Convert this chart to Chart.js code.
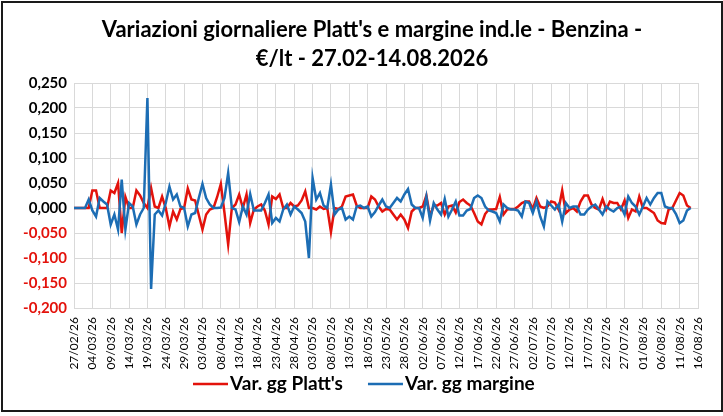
<!DOCTYPE html>
<html>
<head>
<meta charset="utf-8">
<script src="https://cdn.jsdelivr.net/npm/chart.js@4.4.1/dist/chart.umd.min.js"></script>
<style>
  html, body { margin: 0; padding: 0; background: #fff; }
  #wrap { position: relative; width: 723px; height: 416px; }
  #frame { position: absolute; left: 1px; top: 1px; width: 718px; height: 407px; border: 2px solid #1a1a1a; box-sizing: content-box; pointer-events: none; }
  canvas { position: absolute; left: 0; top: 0; }
</style>
</head>
<body>
<div id="wrap">
  <canvas id="c" width="723" height="416"></canvas>
  <div id="frame"></div>
</div>
<script>
// ---- Data (daily, day 0 = 27/02/26) ----
const titleLines = ["Variazioni giornaliere Platt's e margine ind.le - Benzina -", "€/lt - 27.02-14.08.2026"];
const seriesNames = ["Var. gg Platt's", "Var. gg margine"];
const tickLabels = ['27/02/26','04/03/26','09/03/26','14/03/26','19/03/26','24/03/26','29/03/26','03/04/26','08/04/26','13/04/26','18/04/26','23/04/26','28/04/26','03/05/26','08/05/26','13/05/26','18/05/26','23/05/26','28/05/26','02/06/26','07/06/26','12/06/26','17/06/26','22/06/26','27/06/26','02/07/26','07/07/26','12/07/26','17/07/26','22/07/26','27/07/26','01/08/26','06/08/26','11/08/26','16/08/26'];
const platts = [
  0, 0, 0, 0, 0, 0.035, 0.035, 0, 0, 0,
  0.035, 0.03, 0.05, -0.05, 0.022, 0, 0, 0.035, 0.025, 0.01,
  0, 0.04, 0.003, 0, 0.023, 0, -0.037, -0.007, -0.023, -0.002,
  0, 0.039, 0.017, 0.015, -0.014, -0.043, -0.013, -0.003, 0, 0.022,
  0.048, -0.01, -0.073, 0, 0.007, 0.027, 0, 0.027, -0.03, -0.003,
  0.003, 0.007, -0.005, -0.033, 0.023, 0.018, 0.027, 0, 0, 0.01,
  0.003, 0.005, 0.015, 0.033, 0, 0, -0.003, 0.003, -0.002, 0,
  -0.048, 0, -0.002, 0.003, 0.023, 0.025, 0.027, 0.005, 0, 0,
  0, 0.023, 0.017, 0.003, -0.007, -0.002, -0.003, -0.013, -0.023, -0.013,
  -0.023, -0.04, -0.007, 0, 0, 0.003, 0.025, -0.017, 0.005, 0.005,
  0.01, -0.013, 0.003, 0.005, -0.009, 0.012, 0.017, 0.01, 0.005, -0.01,
  -0.027, -0.033, -0.012, -0.003, -0.003, -0.002, 0.022, -0.013, -0.003, -0.002,
  -0.002, 0.003, 0.01, 0.013, 0.013, -0.002, 0.02, 0.003, 0, 0.003,
  0.013, 0.011, -0.003, 0.035, -0.01, -0.003, 0, -0.007, 0.013, 0.025,
  0.025, 0.007, 0, -0.003, 0.018, -0.003, 0.013, 0.01, 0.01, -0.003,
  0.015, -0.02, -0.003, -0.007, 0.023, 0, 0, -0.005, -0.01, -0.025,
  -0.03, -0.031, -0.003, 0, 0.015, 0.03, 0.025, 0.005, 0
];
const margine = [
  0, 0, 0, 0, 0.017, -0.005, -0.017, 0.02, 0.013, 0.007,
  -0.033, -0.013, -0.043, 0.057, -0.043, 0.01, 0.003, -0.033, -0.013, 0,
  0.22, -0.162, -0.013, -0.005, -0.015, 0.01, 0.043, 0.017, 0.027, 0.003,
  0, -0.037, -0.013, -0.01, 0.02, 0.048, 0.02, 0.007, 0, 0,
  0.001, 0.02, 0.07, 0, -0.003, -0.028, 0.003, -0.013, 0.028, -0.005,
  -0.005, -0.005, 0.01, 0.027, -0.03, -0.02, -0.027, -0.003, 0.007, -0.013,
  0.003, -0.003, -0.01, -0.027, -0.1, 0.06, 0.017, 0.03, 0.005, 0,
  0.047, -0.013, -0.003, 0, -0.023, -0.017, -0.023, 0.003, 0.005, 0,
  0.003, -0.017, -0.008, 0.005, 0.017, 0.003, 0, 0.01, 0.02, 0.013,
  0.027, 0.038, 0.007, 0, 0, -0.02, 0.022, -0.025, 0.01, -0.003,
  -0.013, 0.018, -0.017, -0.003, 0.013, -0.015, -0.015, -0.005, -0.002, 0.02,
  0.025, 0.02, 0.003, -0.005, -0.007, -0.01, -0.027, 0.007, 0, -0.003,
  -0.003, -0.005, -0.017, 0.013, 0.01, -0.01, 0.013, -0.017, -0.037, 0.013,
  0.005, -0.003, 0.007, -0.027, 0.01, 0, 0.003, 0.003, -0.013, -0.013,
  -0.003, 0.003, 0.007, -0.003, -0.013, 0.003, -0.003, -0.007, 0, 0.003,
  -0.013, 0.023, 0.01, 0.003, -0.013, 0.003, 0.02, 0.007, 0.02, 0.03,
  0.03, 0.003, 0, 0, -0.012, -0.03, -0.025, -0.005, 0
];
const tickStepDays = 5;

// ---- Chart ----
const FONT = 'Lato, "Open Sans", "DejaVu Sans", sans-serif';
const toPoints = arr => arr.map((v, i) => ({ x: i, y: v }));

const titlePlugin = {
  id: 'twoLineTitle',
  afterDraw(chart) {
    const ctx = chart.ctx;
    ctx.save();
    ctx.fillStyle = '#000';
    ctx.font = 'bold 22px ' + FONT;
    ctx.textAlign = 'center';
    ctx.textBaseline = 'middle';
    ctx.fillText(titleLines[0], 372, 30);
    ctx.fillText(titleLines[1], 372, 59);
    ctx.restore();
  }
};

const legendPlugin = {
  id: 'bottomLegend',
  afterDraw(chart) {
    const ctx = chart.ctx;
    const y = 384;
    let x = 193;
    ctx.save();
    ctx.font = 'bold 19px ' + FONT;
    ctx.textBaseline = 'middle';
    ctx.textAlign = 'left';
    chart.data.datasets.forEach(ds => {
      ctx.strokeStyle = ds.borderColor;
      ctx.lineWidth = 2.5;
      ctx.beginPath();
      ctx.moveTo(x, y);
      ctx.lineTo(x + 35, y);
      ctx.stroke();
      x += 37;
      ctx.fillStyle = '#000';
      ctx.fillText(ds.label, x, y);
      x += ctx.measureText(ds.label).width + 25;
    });
    ctx.restore();
  }
};

new Chart(document.getElementById('c'), {
  type: 'line',
  data: {
    datasets: [
      { label: seriesNames[0], data: toPoints(platts), borderColor: '#e3120b', backgroundColor: '#e3120b',
        borderWidth: 2.5, pointRadius: 0, tension: 0, order: 1 },
      { label: seriesNames[1], data: toPoints(margine), borderColor: '#1c6db4', backgroundColor: '#1c6db4',
        borderWidth: 2.5, pointRadius: 0, tension: 0, order: 0 }
    ]
  },
  plugins: [titlePlugin, legendPlugin],
  options: {
    responsive: false,
    animation: false,
    devicePixelRatio: 1,
    layout: { padding: { left: 6, right: 0, top: 83, bottom: 46 } },
    plugins: {
      title: { display: false },
      legend: { display: false },
      tooltip: { enabled: false }
    },
    scales: {
      x: {
        type: 'linear', min: 0, max: (tickLabels.length - 1) * tickStepDays,
        afterFit: s => { s.height = 62; },
        grid: { color: '#d9d9d9', lineWidth: 1, drawTicks: false },
        border: { color: '#d9d9d9' },
        ticks: {
          stepSize: tickStepDays, autoSkip: false, minRotation: 90, maxRotation: 90, padding: 9,
          color: '#000', font: { family: FONT, size: 12 },
          callback: v => tickLabels[Math.round(v / tickStepDays)]
        }
      },
      y: {
        min: -0.2, max: 0.25,
        afterFit: s => { s.width = 68; },
        grid: { color: '#d9d9d9', lineWidth: 1, drawTicks: false },
        border: { color: '#d9d9d9' },
        ticks: {
          stepSize: 0.05, padding: 7,
          font: { family: FONT, size: 15, weight: 'bold' },
          color: c => (c.tick && c.tick.value < -1e-9) ? '#e3120b' : '#000',
          callback: v => v.toFixed(3).replace('.', ',').replace(/^-0,000$/, '0,000')
        }
      },
      yRightSpace: {
        position: 'right', display: true,
        afterFit: s => { s.width = 25; },
        grid: { display: false, drawTicks: false },
        border: { display: false },
        ticks: { display: false }
      }
    }
  }
});
</script>
</body>
</html>
